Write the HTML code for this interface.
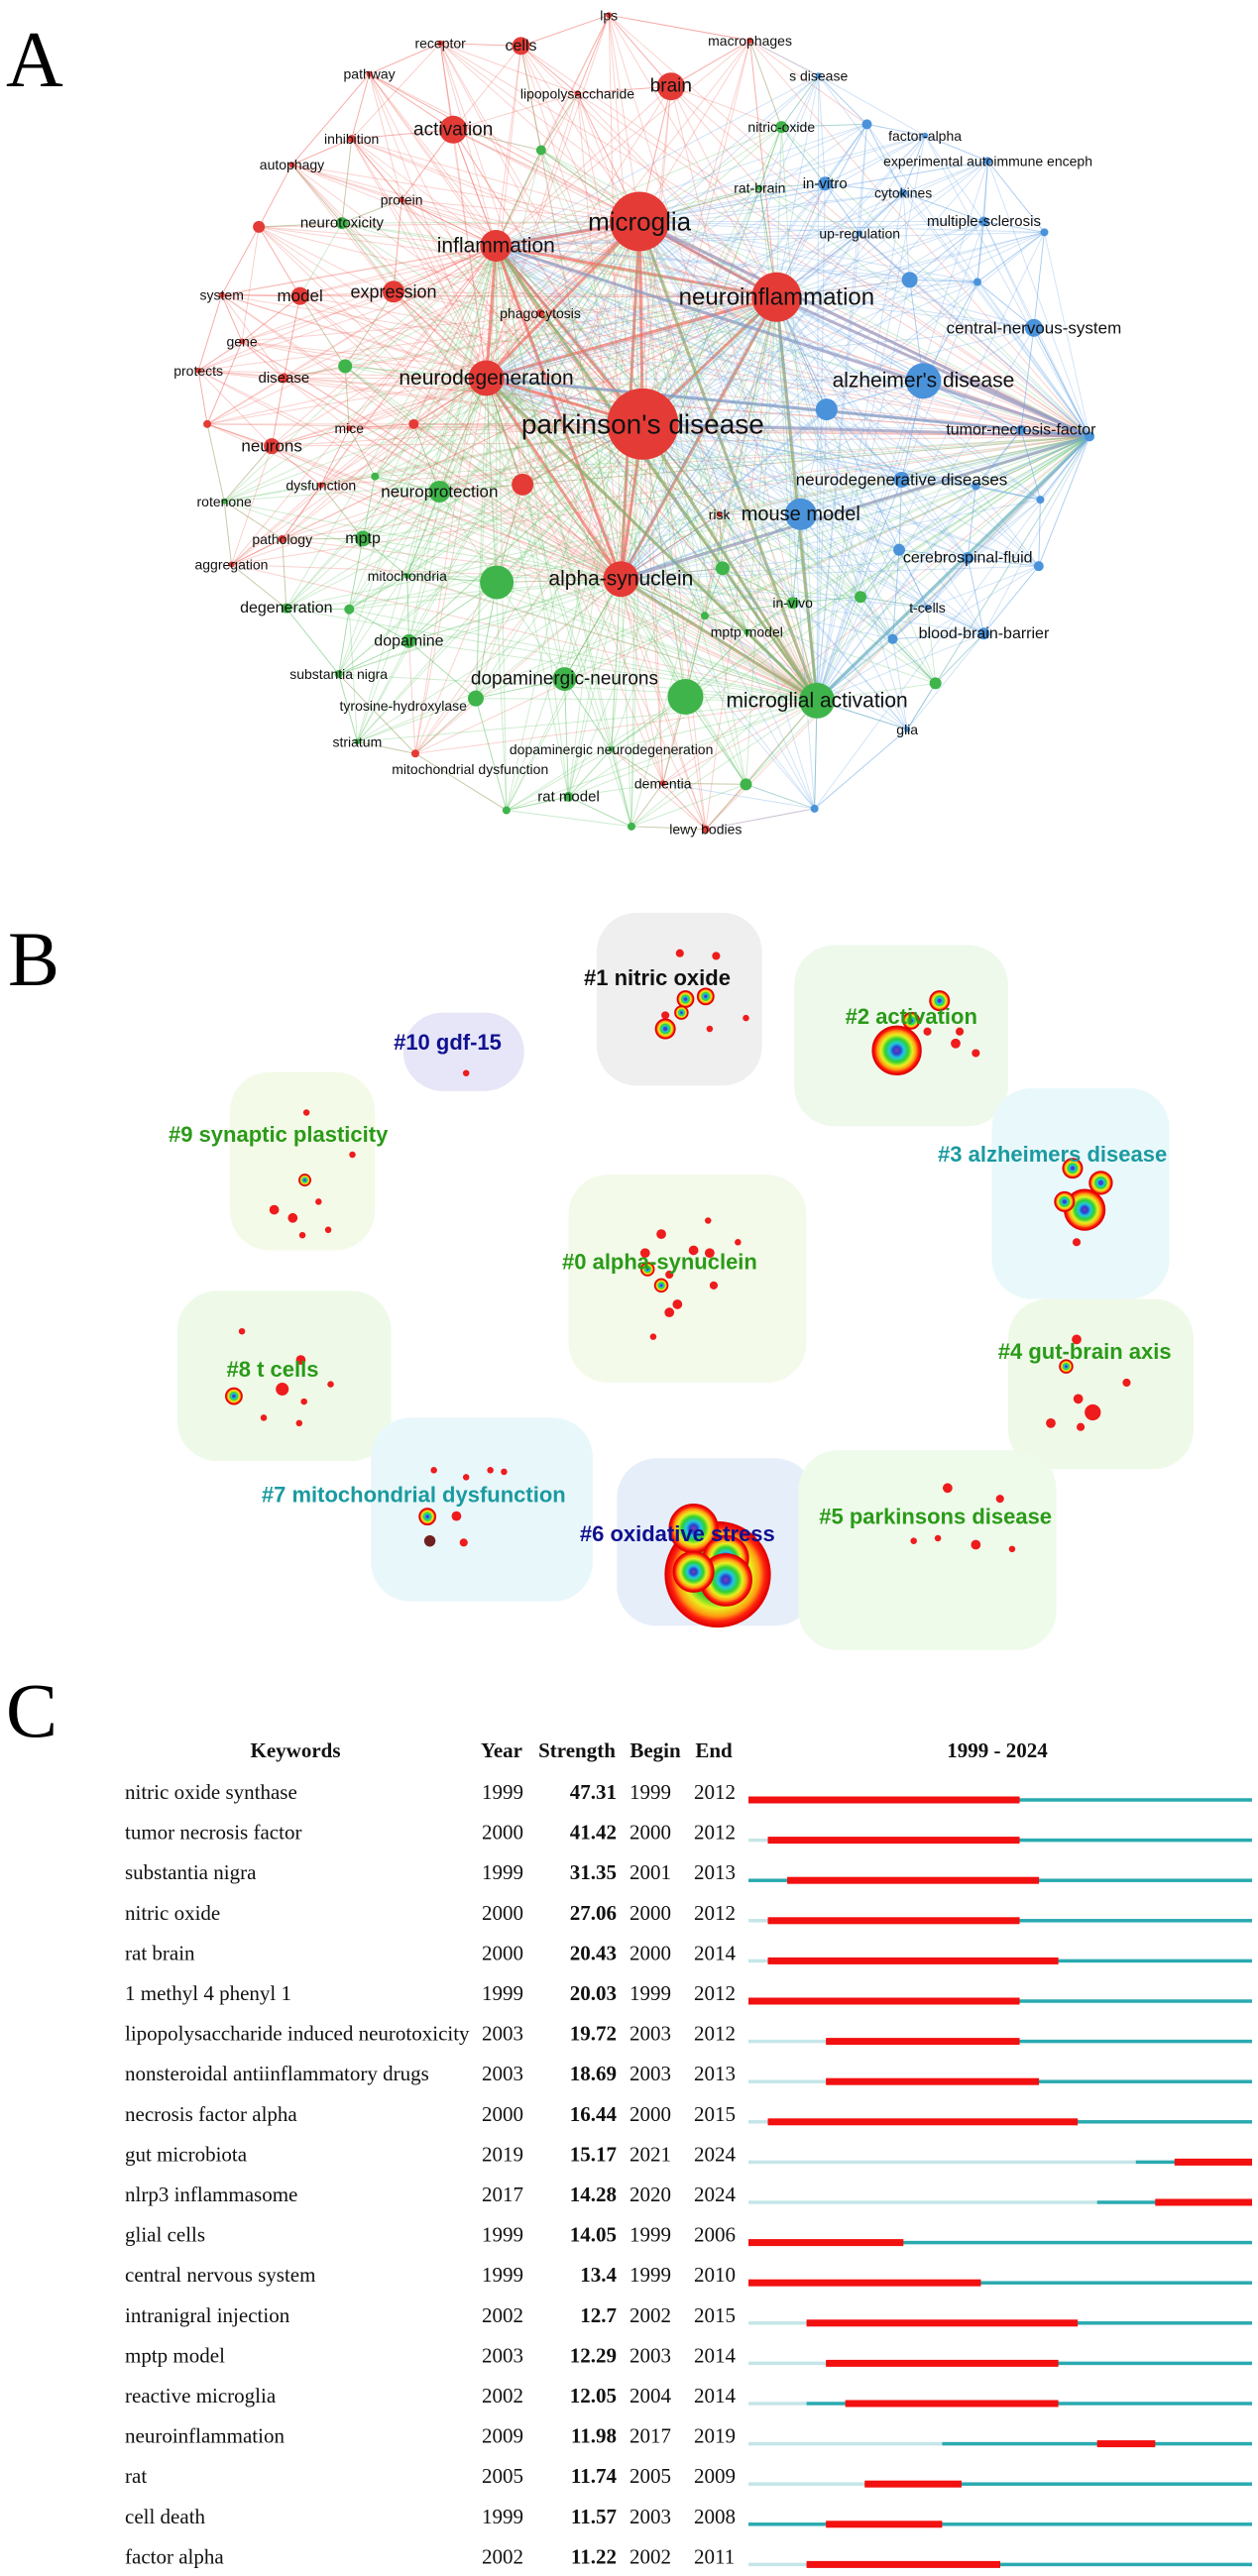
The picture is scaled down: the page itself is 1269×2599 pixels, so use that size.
<!DOCTYPE html>
<html><head><meta charset="utf-8"><style>
html,body{margin:0;padding:0;background:#fff}
svg{display:block}
.lbl{font-family:"Liberation Sans",sans-serif;fill:#111;text-anchor:middle;dominant-baseline:central}
.cl{font-family:"Liberation Sans",sans-serif;font-weight:bold;text-anchor:middle;dominant-baseline:central}
.tc{font-family:"Liberation Serif",serif;font-size:21px;fill:#111}
</style></head><body>
<svg id="fig" width="1269" height="2599" viewBox="0 0 1269 2599" xmlns="http://www.w3.org/2000/svg">
<defs>
<radialGradient id="rainbow">
<stop offset="0" stop-color="#7a3fb0"/><stop offset="0.15" stop-color="#2a3fd0"/><stop offset="0.3" stop-color="#20c8e0"/>
<stop offset="0.48" stop-color="#30d030"/><stop offset="0.65" stop-color="#e8f020"/><stop offset="0.8" stop-color="#ff9a10"/>
<stop offset="0.9" stop-color="#ff2010"/><stop offset="1" stop-color="#e00000"/></radialGradient>
</defs>
<g id="panelA">
<text x="6" y="87" font-family="Liberation Serif,serif" font-size="80">A</text>
<g id="edges"></g><g id="nodes"></g><g id="labels"></g>
</g>
<g id="panelB">
<text x="8" y="994" font-family="Liberation Serif,serif" font-size="78">B</text>
<g id="blobs"></g><g id="dots"></g><g id="clabels"></g>
</g>
<g id="panelC">
<text x="6" y="1752" font-family="Liberation Serif,serif" font-size="78">C</text>
<g id="thead"></g><g id="trows"></g>
</g>
</svg>
<script>
const SX=0.8135, SY=0.545;
const COL={R:"#e53b36",G:"#3fb44a",B:"#4a93db"};
const ECOL={R:"#f06a60",G:"#62c466",B:"#6aa6e6"};
const nodeLabels=["lps","receptor","cells","macrophages","pathway","brain","lipopolysaccharide","activation","inhibition","autophagy","protein","","microglia","inflammation","expression","model","system","phagocytosis","neuroinflammation","gene","protects","disease","neurodegeneration","parkinson's disease","","","mice","neurons","dysfunction","","risk","pathology","aggregation","alpha-synuclein","","dementia","lewy bodies",
"nitric-oxide","","neurotoxicity","","","neuroprotection","rotenone","mptp","mitochondria","","","","in-vivo","degeneration","","mptp model","","dopamine","substantia nigra","dopaminergic-neurons","","microglial activation","","striatum","","dopaminergic neurodegeneration","rat model","","","","rat-brain",
"s disease","","factor-alpha","experimental autoimmune enceph","in-vitro","cytokines","multiple-sclerosis","","up-regulation","","","central-nervous-system","alzheimer's disease","","tumor-necrosis-factor","","neurodegenerative diseases","","","mouse model","cerebrospinal-fluid","","","t-cells","blood-brain-barrier","","glia",""];
const nodeX=[755,546,646,930,458,832,716,562,436,362,498,321,793,615,488,372,275,670,963,300,246,352,603,797,257,513,433,337,398,648,892,350,287,770,515,822,875,
969,671,424,428,465,545,278,450,505,616,896,1067,983,355,433,926,874,507,420,700,850,1013,590,443,1160,758,705,628,925,783,942,
1015,1075,1147,1225,1023,1120,1220,1295,1066,1128,1212,1282,1145,1025,1266,1351,1118,1210,1290,993,1200,1115,1288,1150,1220,1107,1125,1010];
const nodeY=[28,80,85,75,137,160,173,240,257,305,370,420,410,455,540,548,546,580,550,632,686,700,700,785,785,785,793,826,898,897,952,998,1045,1072,1395,1450,1535,
235,278,413,678,882,910,928,997,1066,1078,1052,1105,1116,1126,1128,1170,1140,1187,1248,1257,1290,1297,1293,1373,1265,1387,1475,1500,1452,1530,348,
140,230,251,298,340,357,410,430,432,518,522,607,705,758,796,808,888,900,925,952,1033,1018,1048,1125,1173,1183,1350,1497];
const nodeSize=[3,3,9,3,3,14,3,14,4,3,3,6,30,16,11,9,3,4,25,3,3,5,18,36,4,5,3,8,3,11,3,4,3,18,4,3,4,
6,5,6,7,4,11,3,8,3,17,7,6,6,5,5,3,4,7,4,12,18,18,8,3,6,3,5,4,6,4,3,
3,5,3,4,7,4,5,4,3,8,4,9,18,11,5,5,8,4,4,16,6,6,5,3,6,5,3,4];
const nodeCluster="RRRRRRRRRRRRRRRRRRRRRRRRRRRRRRRRRRRRRGGGGGGGGGGGGGGGGGGGGGGGGGGGGGGGBBBBBBBBBBBBBBBBBBBBBBBBBBBBBB";
const labelSize=[14,14,16,14,14,19,14,19,14,14,14,0,26,21,18,17,14,14,24,14,14,15,21,28,0,0,14,17,14,0,14,14,14,21,0,14,14,
14,0,15,0,0,17,14,16,14,0,0,0,14,16,0,14,0,16,14,19,0,21,0,14,0,14,15,0,0,0,14,
14,0,14,14,15,14,15,0,14,0,0,17,21,0,16,0,17,0,0,20,16,0,0,14,16,0,14,0];
const labelPos={"mitochondrial dysfunction":[583,1424,14],"tyrosine-hydroxylase":[500,1306,14]};
const NS="http://www.w3.org/2000/svg";
const eG=document.getElementById('edges'),nG=document.getElementById('nodes'),lG=document.getElementById('labels');
const N=nodeX.length;
const px=i=>nodeX[i]*SX, py=i=>nodeY[i]*SY;
const hubs=[23,12,18,22,33,58,83,13];
function line(a,b,w,op){
  const l=document.createElementNS(NS,'line');
  l.setAttribute('x1',px(a));l.setAttribute('y1',py(a));l.setAttribute('x2',px(b));l.setAttribute('y2',py(b));
  l.setAttribute('stroke',ECOL[nodeCluster[a]]);l.setAttribute('stroke-width',w);l.setAttribute('stroke-opacity',op);
  
  
  eG.appendChild(l);
}
for(let i=0;i<N;i++){
  hubs.forEach(h=>{ if(h!==i) line(i,h, hubs.includes(i)?3:1, hubs.includes(i)?0.45:0.3); });
  const d=[];for(let j=0;j<N;j++) if(j!==i) d.push([Math.hypot(px(i)-px(j),py(i)-py(j)),j]);
  d.sort((a,b)=>a[0]-b[0]);
  for(let k=0;k<5;k++) line(i,d[k][1],0.9,0.35);
}
for(let i=0;i<N;i++){
  const c=document.createElementNS(NS,'circle');
  c.setAttribute('cx',px(i));c.setAttribute('cy',py(i));c.setAttribute('r',nodeSize[i]);
  c.setAttribute('fill',COL[nodeCluster[i]]);
  
  
  nG.appendChild(c);
  if(nodeLabels[i]){
    const t=document.createElementNS(NS,'text');
    let x=px(i),y=py(i),fs=labelSize[i];
    t.setAttribute('x',x);t.setAttribute('y',y);t.setAttribute('class','lbl');t.setAttribute('font-size',fs);
    t.textContent=nodeLabels[i];
    
    
    lG.appendChild(t);
  }
}
["mitochondrial dysfunction","tyrosine-hydroxylase"].forEach(s=>{
  const p=labelPos[s];const t=document.createElementNS(NS,'text');
  t.setAttribute('x',p[0]*SX);t.setAttribute('y',p[1]*SY);t.setAttribute('class','lbl');t.setAttribute('font-size',p[2]);
  t.textContent=s;
  
  
  lG.appendChild(t);
});

const BY=850;
const clusterNames=["#1 nitric oxide","#10 gdf-15","#2 activation","#9 synaptic plasticity","#3 alzheimers disease","#0 alpha-synuclein","#4 gut-brain axis","#8 t cells","#7 mitochondrial dysfunction","#6 oxidative stress","#5 parkinsons disease"];
const clusterLX=[815,555,1130,345,1305,818,1345,338,513,840,1160];
const clusterLY=[250,370,322,540,577,776,942,975,1207,1280,1248];
const clusterColor=["#111","#101090","#2a9a18","#2a9a18","#1a9aa0","#2a9a18","#2a9a18","#2a9a18","#1a9aa0","#101090","#2a9a18"];
const blobBox=[[740,130,945,450],[500,315,650,460],[985,190,1250,525],[285,425,465,755],[1230,455,1450,845],[705,615,1000,1000],[1250,845,1480,1160],[220,830,485,1145],[460,1065,735,1405],[765,1140,1010,1450],[990,1125,1310,1495]];
const blobFill=["#efefef","#e6e6f8","#eef9ec","#f4fae8","#e9f8fb","#f3faea","#eef9e8","#eef9e8","#e8f7fa","#e6eef9","#eefaea"];
const bG=document.getElementById('blobs'),dG=document.getElementById('dots'),cG=document.getElementById('clabels');
blobBox.forEach((b,i)=>{
  const r=document.createElementNS(NS,'rect');
  r.setAttribute('x',b[0]*SX);r.setAttribute('y',b[1]*SY+BY);r.setAttribute('width',(b[2]-b[0])*SX);r.setAttribute('height',(b[3]-b[1])*SY);
  r.setAttribute('rx',40);r.setAttribute('fill',blobFill[i]);
  
  
  bG.appendChild(r);
});
const dotX=[843,888,825,925,880,1185,1210,1190,1150,1335,820,800,860,880,840,830,810,885,915,878,830,340,363,380,437,395,375,407,350,373,327,371,410,377,300,533,566,575,538,578,608,625,1355,1303,1340,1337,1397,1335,1175,1210,1240,1163,1255,1133,578];
const dotY=[205,210,320,325,345,372,390,350,350,740,725,760,755,760,855,870,915,820,740,700,800,680,695,500,578,665,727,717,1012,958,1065,1075,1003,1035,905,1293,1247,1296,1162,1175,1162,1165,1055,1075,1082,1030,1000,920,1195,1300,1215,1288,1308,1293,427];
const dotR=[5,5,5,4,4,6,5,5,5,5,6,6,6,6,6,6,4,5,4,4,5,6,6,4,4,4,4,4,8,6,4,4,4,4,4,7,6,5,4,4,4,4,10,6,5,6,5,6,6,6,5,4,4,4,4];
dotX.forEach((x,i)=>{
  const c=document.createElementNS(NS,'circle');
  c.setAttribute('cx',x*SX);c.setAttribute('cy',dotY[i]*SY+BY);c.setAttribute('r',dotR[i]*SX);c.setAttribute('fill',i==35?'#702020':'#ee1c1c');
  
  
  dG.appendChild(c);
});
const ringX=[890,860,900,900,860,1112,1165,1130,1345,1330,1365,1320,825,875,850,845,803,820,378,290,530,1322];
const ringY=[1355,1270,1325,1365,1350,385,293,330,680,603,630,665,345,285,290,315,790,820,625,1025,1248,970];
const ringR=[65,30,28,32,25,30,12,10,25,12,14,12,12,10,10,8,8,8,7,10,10,8];
ringX.forEach((x,i)=>{
  const c=document.createElementNS(NS,'circle');
  c.setAttribute('cx',x*SX);c.setAttribute('cy',ringY[i]*SY+BY);c.setAttribute('r',ringR[i]*SX);c.setAttribute('fill','url(#rainbow)');
  c.setAttribute('stroke','#e00000');c.setAttribute('stroke-width',1.5);
  
  
  dG.appendChild(c);
});
clusterNames.forEach((s,i)=>{
  const t=document.createElementNS(NS,'text');
  t.setAttribute('x',clusterLX[i]*SX);t.setAttribute('y',clusterLY[i]*SY+BY);t.setAttribute('class','cl');
  t.setAttribute('font-size',22);t.setAttribute('fill',clusterColor[i]);t.textContent=s;
  
  
  cG.appendChild(t);
});

const keywords=["nitric oxide synthase","tumor necrosis factor","substantia nigra","nitric oxide","rat brain","1 methyl 4 phenyl 1","lipopolysaccharide induced neurotoxicity","nonsteroidal antiinflammatory drugs","necrosis factor alpha","gut microbiota","nlrp3 inflammasome","glial cells","central nervous system","intranigral injection","mptp model","reactive microglia","neuroinflammation","rat","cell death","factor alpha"];
const years=[1999,2000,1999,2000,2000,1999,2003,2003,2000,2019,2017,1999,1999,2002,2003,2002,2009,2005,1999,2002];
const strengths=["47.31","41.42","31.35","27.06","20.43","20.03","19.72","18.69","16.44","15.17","14.28","14.05","13.4","12.7","12.29","12.05","11.98","11.74","11.57","11.22"];
const begins=[1999,2000,2001,2000,2000,1999,2003,2003,2000,2021,2020,1999,1999,2002,2003,2004,2017,2005,2003,2002];
const ends=[2012,2012,2013,2012,2014,2012,2012,2013,2015,2024,2024,2006,2010,2015,2014,2014,2019,2009,2008,2011];
const Y0=1999,Y1=2024,TX0=755,TX1=1263;
const xs=y=>TX0+(y-Y0)*(TX1-TX0)/(Y1-Y0+1);
const th=document.getElementById('thead'),tr=document.getElementById('trows');
function txt(g,x,y,s,anchor,bold,name){
  const t=document.createElementNS(NS,'text');
  t.setAttribute('x',x);t.setAttribute('y',y);t.setAttribute('class','tc');t.setAttribute('text-anchor',anchor);
  if(bold)t.setAttribute('font-weight','bold');t.textContent=s;
  
  
  g.appendChild(t);
}
[["Keywords",298],["Year",506],["Strength",582],["Begin",661],["End",720],["1999 - 2024",1006]].forEach(h=>txt(th,h[1],1773,h[0],'middle',true,'column-header'));
function bar(x1,x2,y,h,c){
  const r=document.createElementNS(NS,'rect');
  r.setAttribute('x',x1);r.setAttribute('y',y-h/2);r.setAttribute('width',Math.max(0,x2-x1));r.setAttribute('height',h);r.setAttribute('fill',c);
  
  
  tr.appendChild(r);
}
keywords.forEach((k,i)=>{
  const yb=1815+i*40.6;
  txt(tr,126,yb,k,'start',false,'keyword');
  txt(tr,486,yb,String(years[i]),'start',false,'year');
  txt(tr,622,yb,strengths[i],'end',true,'strength');
  txt(tr,635,yb,String(begins[i]),'start',false,'begin-year');
  txt(tr,700,yb,String(ends[i]),'start',false,'end-year');
  const ly=yb+1;
  bar(xs(Y0),xs(years[i]),ly,3.5,'#c5e6e8');
  bar(xs(years[i]),xs(Y1+1),ly,3.5,'#2aaab0');
  bar(xs(begins[i]),xs(ends[i]+1),ly,7,'#f21010');
});
</script>
</body></html>
